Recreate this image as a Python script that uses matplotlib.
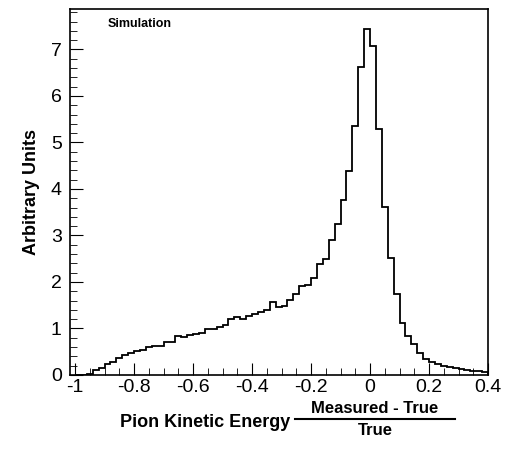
import numpy as np
import matplotlib
matplotlib.use('Agg')
import matplotlib.pyplot as plt
from matplotlib.ticker import MultipleLocator

plt.rcParams['font.family'] = ['Liberation Sans', 'DejaVu Sans']

# histogram: 70 bins of width 0.02 from -1 to 0.4
bin_edges = np.round(np.linspace(-1.0, 0.4, 71), 3)
counts = [0.0, 0.0, 0.03, 0.10, 0.15, 0.24, 0.28, 0.37, 0.42, 0.48,
          0.51, 0.53, 0.59, 0.62, 0.62, 0.71, 0.70, 0.83, 0.82, 0.86,
          0.88, 0.90, 0.99, 0.99, 1.04, 1.08, 1.21, 1.24, 1.21, 1.27,
          1.31, 1.35, 1.39, 1.57, 1.47, 1.49, 1.62, 1.73, 1.91, 1.93,
          2.09, 2.39, 2.49, 2.90, 3.24, 3.77, 4.39, 5.35, 6.62, 7.45,
          7.07, 5.28, 3.61, 2.51, 1.75, 1.12, 0.84, 0.66, 0.48, 0.34,
          0.27, 0.23, 0.19, 0.16, 0.14, 0.12, 0.10, 0.09, 0.08, 0.07]

fig = plt.figure(figsize=(5.11, 4.49), dpi=100)
ax = fig.add_axes([0.137, 0.165, 0.818, 0.815])
ax.stairs(counts, bin_edges, color='black', linewidth=1.3)

ax.set_xlim(-1.017, 0.4)
ax.set_ylim(0, 7.87)
ax.xaxis.set_major_locator(MultipleLocator(0.2))
ax.xaxis.set_minor_locator(MultipleLocator(0.05))
ax.yaxis.set_major_locator(MultipleLocator(1))
ax.yaxis.set_minor_locator(MultipleLocator(0.2))
ax.xaxis.set_major_formatter(plt.FuncFormatter(lambda v, p: '%g' % round(v, 2)))
ax.tick_params(which='both', direction='in', top=False, right=False, labelsize=14)
ax.tick_params(which='major', length=9)
ax.tick_params(which='minor', length=5)
ax.tick_params(axis='x', pad=3)
ax.tick_params(axis='y', pad=6)
for s in ax.spines.values():
    s.set_linewidth(1.2)

ax.set_ylabel('Arbitrary Units', fontsize=13, fontweight='bold', labelpad=8)
ax.text(0.09, 0.975, 'Simulation', transform=ax.transAxes, fontsize=9,
        fontweight='bold', va='top')

# x label with fraction
fig.text(0.568, 0.06, 'Pion Kinetic Energy', fontsize=13, fontweight='bold',
         ha='right', va='center')
fig.text(0.734, 0.074, 'Measured - True', fontsize=12, fontweight='bold',
         ha='center', va='bottom')
fig.text(0.734, 0.058, 'True', fontsize=12, fontweight='bold',
         ha='center', va='top')
fig.add_artist(plt.Line2D([0.577, 0.89], [0.067, 0.067], color='black',
                          linewidth=1.5, transform=fig.transFigure))

fig.savefig('out.png', dpi=100)
